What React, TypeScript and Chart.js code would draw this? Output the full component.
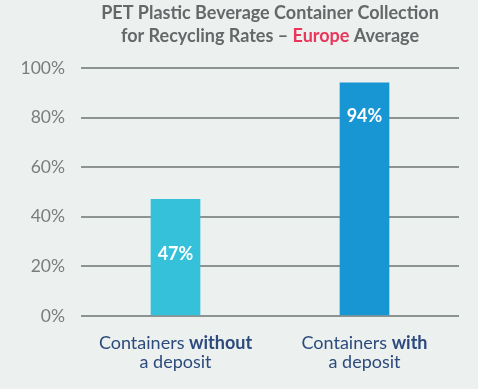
import React, { useEffect, useRef } from "react";
import { Chart, registerables } from "chart.js";

Chart.register(...registerables);

const categories = ["without", "with"];
const labelLine1Plain = ["Containers ", "Containers "];
const labelLine1Bold = ["without", "with"];
const labelLine2 = ["a deposit", "a deposit"];
const values = [47, 94];
const valueLabels = ["47%", "94%"];
const barColors = ["#35c1d9", "#1896d3"];
const yTicks = [0, 20, 40, 60, 80, 100];
const titleLine1 = "PET Plastic Beverage Container Collection";
const titleLine2Parts = ["for Recycling Rates \u2013 ", "Europe", " Average"];

const FONT = "Lato, 'Open Sans', sans-serif";

const drawPlugin = {
  id: "custom",
  beforeDraw(chart: any) {
    const { ctx, width, height } = chart;
    ctx.save();
    ctx.fillStyle = "#ecf0ef";
    ctx.fillRect(0, 0, width, height);
    ctx.restore();
  },
  afterDraw(chart: any) {
    const { ctx } = chart;
    const x = chart.scales.x;
    const y = chart.scales.y;
    ctx.save();
    // Title
    ctx.textBaseline = "middle";
    ctx.font = `bold 18px ${FONT}`;
    ctx.fillStyle = "#656868";
    ctx.textAlign = "center";
    const cx = 270;
    ctx.fillText(titleLine1, cx, 13);
    const widths = titleLine2Parts.map((p) => ctx.measureText(p).width);
    const total = widths.reduce((a, b) => a + b, 0);
    let sx = cx - total / 2;
    ctx.textAlign = "left";
    titleLine2Parts.forEach((p, i) => {
      ctx.fillStyle = i === 1 ? "#e8375a" : "#656868";
      ctx.fillText(p, sx, 36);
      sx += widths[i];
    });
    // Category labels
    categories.forEach((_, i) => {
      const px = x.getPixelForValue(i);
      ctx.font = `18px ${FONT}`;
      const w1 = ctx.measureText(labelLine1Plain[i]).width;
      ctx.font = `bold 18px ${FONT}`;
      const w2 = ctx.measureText(labelLine1Bold[i]).width;
      let lx = px - (w1 + w2) / 2;
      ctx.fillStyle = "#2c4b7c";
      ctx.textAlign = "left";
      ctx.font = `18px ${FONT}`;
      ctx.fillText(labelLine1Plain[i], lx, 343);
      ctx.font = `bold 18px ${FONT}`;
      ctx.fillText(labelLine1Bold[i], lx + w1, 343);
      ctx.font = `18px ${FONT}`;
      ctx.textAlign = "center";
      ctx.fillText(labelLine2[i], px, 362);
    });
    // Value labels
    const meta = chart.getDatasetMeta(0);
    const offsets = [55, 33];
    meta.data.forEach((bar: any, i: number) => {
      ctx.font = `bold 18px ${FONT}`;
      ctx.fillStyle = "#ffffff";
      ctx.textAlign = "center";
      ctx.fillText(valueLabels[i], bar.x, y.getPixelForValue(values[i]) + offsets[i]);
    });
    ctx.restore();
  },
};

export default function App() {
  const ref = useRef<HTMLCanvasElement>(null);
  useEffect(() => {
    document.body.style.margin = "0";
    const chart = new Chart(ref.current!, {
      type: "bar",
      data: {
        labels: categories,
        datasets: [
          {
            data: values,
            backgroundColor: barColors,
            barThickness: 49,
          },
        ],
      },
      options: {
        animation: false,
        responsive: false,
        events: [],
        layout: { padding: { top: 68, right: 19, left: 0, bottom: 0 } },
        plugins: { legend: { display: false }, tooltip: { enabled: false }, title: { display: false } },
        scales: {
          x: {
            grid: { display: false },
            border: { display: false },
            ticks: { display: false },
            afterFit: (s: any) => {
              s.height = 73;
            },
          },
          y: {
            min: 0,
            max: 100,
            afterBuildTicks: (s: any) => {
              s.ticks = yTicks.map((v) => ({ value: v }));
            },
            grid: { color: "#8d9393", lineWidth: 2, drawTicks: false },
            border: { display: false },
            ticks: {
              padding: 16,
              color: "#7a7d7d",
              font: { family: FONT, size: 17.5 },
              callback: (v: any) => `${v}%`,
            },
            afterFit: (s: any) => {
              s.width = 81;
            },
          },
        },
      },
      plugins: [drawPlugin],
    });
    return () => chart.destroy();
  }, []);
  return <canvas ref={ref} width={478} height={389} style={{ display: "block" }} />;
}
